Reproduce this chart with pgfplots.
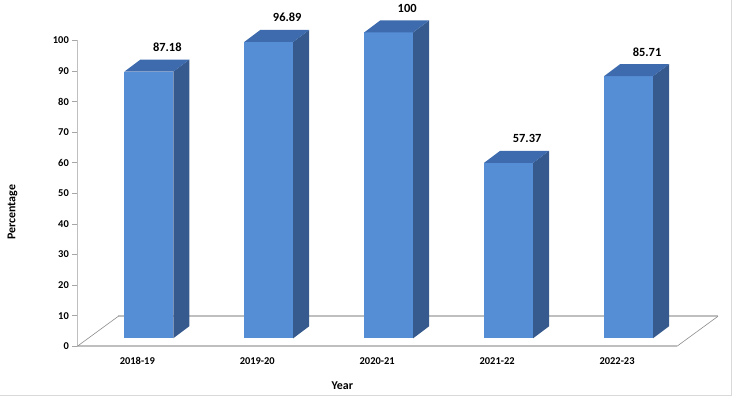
\documentclass[border=0pt]{standalone}
\usepackage{pgfplots}
\pgfplotsset{compat=1.18}
\usepackage{pgfplotstable}
\usepackage{fontspec}
\setmainfont{Carlito}
\definecolor{frontc}{RGB}{85,142,213}
\definecolor{sidec}{RGB}{54,90,142}
\definecolor{topc}{RGB}{62,107,174}
\definecolor{floorc}{RGB}{191,191,191}
\definecolor{diagc}{RGB}{140,140,140}

\pgfplotstableread{
x v
0 87.18
1 96.89
2 100
3 57.37
4 85.71
}\datatable

% geometry of the 3-D bars (axis units)
\newcommand{\drawbar}[1]{%
  \pgfplotstablegetelem{#1}{v}\of\datatable
  \pgfmathsetmacro\vtop{\pgfplotsretval+2.6}%
  \pgfmathsetmacro\vback{\pgfplotsretval+6.52}%
  \pgfmathsetmacro\xa{#1-0.108}%
  \pgfmathsetmacro\xb{#1+0.3}%
  \pgfmathsetmacro\xc{#1+0.433}%
  \pgfmathsetmacro\xd{#1+0.025}%
  \addplot[fill=frontc, draw=none] coordinates {(\xa,2.6) (\xb,2.6) (\xb,\vtop) (\xa,\vtop)};
  \addplot[fill=sidec, draw=none] coordinates {(\xb,2.6) (\xc,6.52) (\xc,\vback) (\xb,\vtop)};
  \addplot[fill=topc, draw=none] coordinates {(\xa,\vtop) (\xb,\vtop) (\xc,\vback) (\xd,\vback)};
}

\begin{document}
\begin{tikzpicture}
\begin{axis}[
  at={(0,0)}, anchor=south west,
  scale only axis, width=600bp, height=306bp,
  xmin=-0.5, xmax=4.5, ymin=0, ymax=100,
  clip=false,
  axis x line*=bottom, axis y line*=left,
  axis line style={draw=floorc, line width=1.5bp},
  xtick={0,1,2,3,4},
  xticklabels={2018-19,2019-20,2020-21,2021-22,2022-23},
  xtick style={draw=none},
  xticklabel style={yshift=-3bp},
  minor xtick={-0.5,0.5,1.5,2.5,3.5,4.5},
  minor tick length=4bp,
  every minor tick/.append style={draw=gray!70, line width=0.6bp},
  ytick={0,10,...,100},
  ytick style={draw=gray!70, line width=0.6bp},
  major tick length=5bp,
  tick align=outside,
  /pgf/number format/assume math mode=true,
  tick label style={font=\bfseries\fontsize{10.5}{12}\selectfont},
  xlabel={Year}, ylabel={Percentage},
  xlabel style={at={(axis description cs:0.442,-0.1405)}, anchor=base, font=\bfseries\fontsize{12}{14}\selectfont},
  ylabel style={at={(axis description cs:-0.1033,0.438)}, anchor=base, rotate=0, font=\bfseries\fontsize{12}{14}\selectfont},
]
% floor
\addplot[floorc, line width=1.5bp] coordinates {(-0.158,9.8) (4.842,9.8)};
\addplot[diagc, line width=0.6bp] coordinates {(-0.5,0) (-0.158,9.8)};
\addplot[diagc, line width=0.6bp] coordinates {(4.5,0) (4.842,9.8)};
% bars
\drawbar{0}
\drawbar{1}
\drawbar{2}
\drawbar{3}
\drawbar{4}
% value labels
\addplot[draw=none, mark=none, nodes near coords, point meta=explicit,
  every node near coord/.append style={anchor=base, yshift=8bp, inner sep=0pt,
    font=\bfseries\fontsize{12.5}{14}\selectfont}]
  table[x expr=\thisrow{x}+0.25, y expr=\thisrow{v}+6.52, meta=v] {\datatable};
\end{axis}
\path (-77bp,-51bp) rectangle (656bp,346bp);
\draw[gray!30, line width=0.8bp] (-77bp,-49.5bp) -- (654.5bp,-49.5bp) -- (654.5bp,346bp);
\end{tikzpicture}
\end{document}
